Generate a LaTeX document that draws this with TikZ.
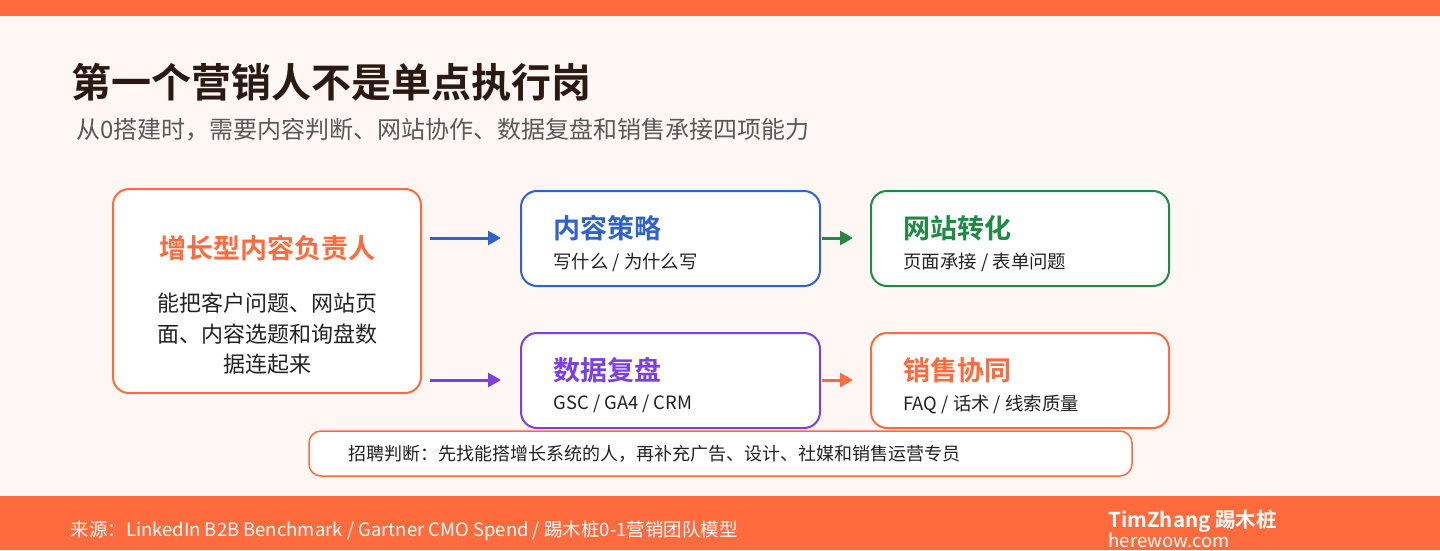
\documentclass[tikz,border=0pt]{standalone}
\usetikzlibrary{arrows.meta}
\usepackage{fontspec}
\setmainfont{Noto Sans CJK SC}
\newfontfamily\cjkb{Noto Sans CJK SC Bold}
\definecolor{orn}{HTML}{FF6B3D}
\definecolor{bg}{HTML}{FFF7F3}
\definecolor{dark}{HTML}{2B1A14}
\definecolor{bl}{HTML}{2F62D0}
\definecolor{gr}{HTML}{1E8A44}
\definecolor{pu}{HTML}{7B3FE4}
\definecolor{txt}{HTML}{222222}
\begin{document}
\begin{tikzpicture}[x=1pt,y=-1pt,
 card/.style={draw=#1,line width=2pt,fill=white,rounded corners=16pt},
 ttl/.style={anchor=west,text=#1,font=\cjkb\fontsize{27}{30}\selectfont},
 sub/.style={anchor=west,text=txt,font=\fontsize{18.4}{20}\selectfont},
 arr/.style={draw=#1,line width=3pt,-{Triangle[length=13pt,width=14pt]}}]
\useasboundingbox (0,0) rectangle (1440,550);
\fill[bg] (0,0) rectangle (1440,550);
\fill[orn] (0,0) rectangle (1440,16);
\fill[orn] (0,496) rectangle (1440,550);
\node[anchor=west,text=dark,font=\cjkb\fontsize{40}{44}\selectfont] (title) at (68,82) {第一个营销人不是单点执行岗};
\node[anchor=west,text=black!65,font=\fontsize{24}{26}\selectfont] (subt) at (73,130) {从0搭建时，需要内容判断、网站协作、数据复盘和销售承接四项能力};
% left card
\draw[card=orn] (113,189) rectangle (421,393);
\node[text=orn,font=\cjkb\fontsize{27}{30}\selectfont] (lt) at (267,248) {增长型内容负责人};
\node[align=center,text=txt,font=\fontsize{22}{30.5}\selectfont] (lb) at (267,334) {能把客户问题、网站页\\面、内容选题和询盘数\\据连起来};
% cards
\draw[card=bl] (521,191) rectangle (820,286);
\node[ttl=bl] (t1) at (550,228) {内容策略};
\node[sub] (s1) at (550,262) {写什么 / 为什么写};
\draw[card=gr] (871,191) rectangle (1169,286);
\node[ttl=gr] (t2) at (900,228) {网站转化};
\node[sub] (s2) at (900,262) {页面承接 / 表单问题};
\draw[card=pu] (521,333) rectangle (820,428);
\node[ttl=pu] (t3) at (550,370) {数据复盘};
\node[sub] (s3) at (550,404) {GSC / GA4 / CRM};
\draw[card=orn] (871,333) rectangle (1169,428);
\node[ttl=orn] (t4) at (900,370) {销售协同};
\node[sub] (s4) at (900,404) {FAQ / 话术 / 线索质量};
% arrows
\coordinate (a1) at (430,238); \coordinate (b1) at (501,238);
\coordinate (a2) at (430,380); \coordinate (b2) at (501,380);
\coordinate (a3) at (822,238); \coordinate (b3) at (853,238);
\coordinate (a4) at (822,380); \coordinate (b4) at (853,380);
\draw[arr=bl] (a1) -- (b1);
\draw[arr=pu] (a2) -- (b2);
\draw[arr=gr] (a3) -- (b3);
\draw[arr=orn] (a4) -- (b4);
% note
\draw[draw=orn,line width=1.5pt,fill=white,rounded corners=12pt] (309,431) rectangle (1132,476);
\node[sub,font=\fontsize{18}{20}\selectfont] (note) at (345,454) {招聘判断：先找能搭增长系统的人，再补充广告、设计、社媒和销售运营专员};
% footer
\node[anchor=west,text=white,font=\fontsize{18.5}{20}\selectfont] (src) at (67,531) {来源：LinkedIn B2B Benchmark / Gartner CMO Spend / 踢木桩0-1营销团队模型};
\node[anchor=west,text=white,font=\cjkb\fontsize{20.5}{22}\selectfont] (brand) at (1105,521) {TimZhang 踢木桩};
\node[anchor=west,text=white,font=\fontsize{18.5}{19}\selectfont] (site) at (1105,540) {herewow.com};
\end{tikzpicture}
\end{document}
